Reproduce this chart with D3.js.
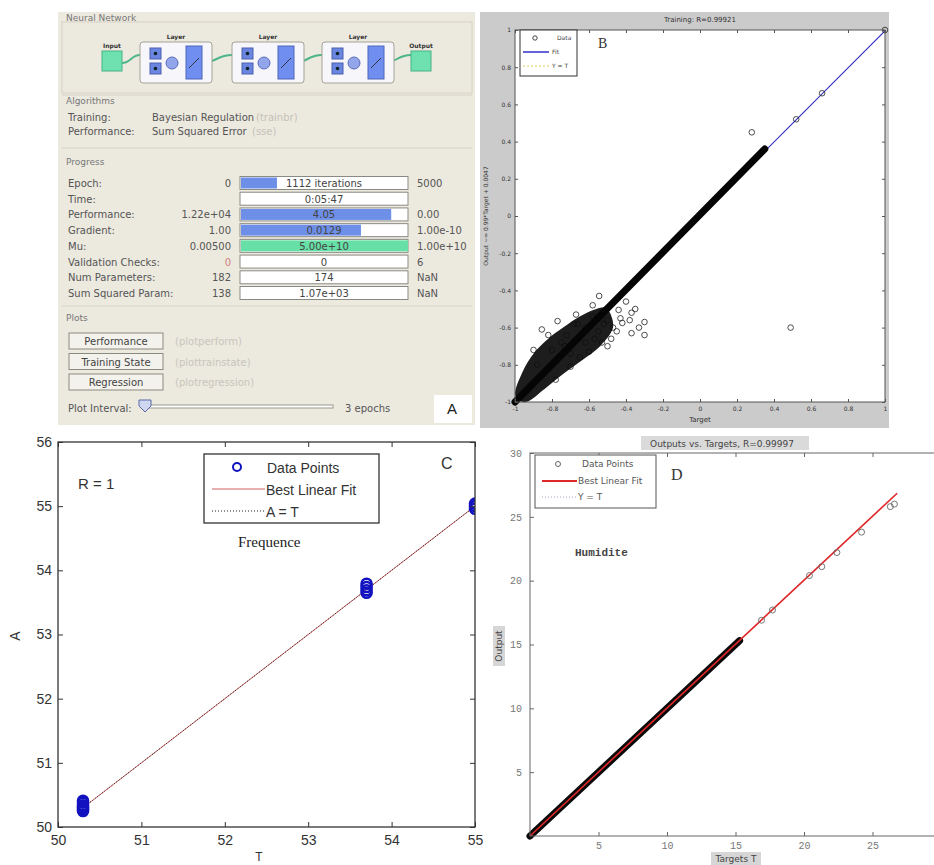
<!DOCTYPE html>
<html>
<head>
<meta charset="utf-8">
<script src="https://cdn.jsdelivr.net/npm/d3@7"></script>
<style>
  body { margin: 0; background: #fff; }
</style>
</head>
<body>
<div id="chart"></div>
<script>
// ---- panel A: nntraintool window ----
const netNodes = ['Input', 'Layer', 'Layer', 'Layer', 'Output'];
const algoLabels = ['Training:', 'Performance:'];
const algoNames = ['Bayesian Regulation', 'Sum Squared Error'];
const algoFns = ['(trainbr)', '(sse)'];
const progLabels = ['Epoch:', 'Time:', 'Performance:', 'Gradient:', 'Mu:', 'Validation Checks:', 'Num Parameters:', 'Sum Squared Param:'];
const progStart = ['0', '', '1.22e+04', '1.00', '0.00500', '0', '182', '138'];
const progValue = ['1112 iterations', '0:05:47', '4.05', '0.0129', '5.00e+10', '0', '174', '1.07e+03'];
const progEnd = ['5000', '', '0.00', '1.00e-10', '1.00e+10', '6', 'NaN', 'NaN'];
const progFill = [0.22, 0, 0.9, 0.72, 1, 0, 0, 0];
const plotButtons = ['Performance', 'Training State', 'Regression'];
const plotFns = ['(plotperform)', '(plottrainstate)', '(plotregression)'];

// ---- panel B: training regression ----
const bTicks = [-1, -0.8, -0.6, -0.4, -0.2, 0, 0.2, 0.4, 0.6, 0.8, 1];
const bBand = [[-1, -1], [0.35, 0.36]]; // overlapping markers along the diagonal
const bBlob = [[-1, -0.96], [-0.96, -0.84], [-0.9, -0.74], [-0.82, -0.66], [-0.74, -0.6], [-0.65, -0.54], [-0.56, -0.5],
               [-0.5, -0.5], [-0.47, -0.6], [-0.54, -0.7], [-0.63, -0.77], [-0.74, -0.85], [-0.84, -0.93], [-0.94, -1.0]];
const bTargets = [-0.855, -0.77, -0.67, -0.58, -0.545, -0.37, -0.3, -0.3, -0.37, -0.44, -0.42, -0.47, -0.53, -0.6, -0.65, -0.7,
                  -0.9, -0.82, -0.75, -0.62, -0.5, -0.48, -0.4, -0.35, -0.45, -0.52, -0.57, -0.62, -0.68, -0.73, -0.38, -0.33,
                  -0.88, -0.8, -0.72, -0.66, -0.58, -0.5, -0.43, -0.55, -0.78, -0.7,
                  0.28, 0.49, 0.52, 0.66, 1.0];
const bOutputs = [-0.61, -0.565, -0.53, -0.48, -0.43, -0.52, -0.57, -0.64, -0.63, -0.505, -0.575, -0.6, -0.68, -0.73, -0.76, -0.81,
                  -0.72, -0.64, -0.68, -0.6, -0.56, -0.66, -0.46, -0.5, -0.62, -0.58, -0.66, -0.68, -0.58, -0.7, -0.56, -0.6,
                  -0.8, -0.72, -0.64, -0.58, -0.54, -0.7, -0.55, -0.62, -0.88, -0.74,
                  0.45, -0.6, 0.52, 0.66, 1.0];
const bFit = [[-1, -0.995], [1, 0.995]];

// ---- panel C: frequence ----
const cTicksX = [50, 51, 52, 53, 54, 55];
const cTicksY = [50, 51, 52, 53, 54, 55, 56];
const cTargets = [50.3, 50.3, 50.3, 50.3, 50.3, 50.3, 53.7, 53.7, 53.7, 53.7, 55, 55, 55];
const cOutputs = [50.25, 50.28, 50.31, 50.34, 50.38, 50.41, 53.65, 53.69, 53.74, 53.79, 54.96, 55.0, 55.04];
const cFit = [[50.3, 50.3], [55, 55]];

// ---- panel D: humidite ----
const dTicks = [5, 10, 15, 20, 25, 30];
const dBand = [[0, 0], [15.3, 15.3]];
const dTargets = [16.9, 17.7, 20.4, 21.3, 22.4, 24.2, 26.3, 26.6];
const dOutputs = [16.9, 17.7, 20.4, 21.1, 22.2, 23.8, 25.8, 26.0];
const dFit = [[0, 0], [26.8, 26.85]];
const dIdent = [[0, 0], [26.8, 26.8]];

const svg = d3.select('#chart').append('svg')
  .attr('width', 934)
  .attr('height', 865)
  .style('display', 'block');
svg.append('rect').attr('width', 934).attr('height', 865).attr('fill', '#fff');

const guiFont = '10px "DejaVu Sans", sans-serif';

// draw a matlab style box with inward ticks on all four sides
function drawAxes(g, x, y, xTicks, yTicks, o) {
  const [x0, x1] = x.range();
  const [y0, y1] = y.range();
  g.append('g').attr('transform', `translate(0,${y0})`)
    .call(d3.axisBottom(x).tickValues(xTicks).tickSize(-o.tick).tickPadding(o.padX).tickFormat(d => String(d)));
  g.append('g').attr('transform', `translate(${x0},0)`)
    .call(d3.axisLeft(y).tickValues(yTicks).tickSize(-o.tick).tickPadding(o.padY).tickFormat(d => String(d)));
  g.append('g').attr('transform', `translate(0,${y1})`)
    .call(d3.axisTop(x).tickValues(xTicks).tickSize(-o.tick).tickFormat(''));
  g.append('g').attr('transform', `translate(${x1},0)`)
    .call(d3.axisRight(y).tickValues(yTicks).tickSize(-o.tick).tickFormat(''));
  g.selectAll('.domain').remove();
  g.selectAll('.tick line').attr('stroke', o.color);
  g.selectAll('.tick text').attr('fill', o.text).style('font', o.font);
  g.append('rect')
    .attr('x', x0).attr('y', y1)
    .attr('width', x1 - x0).attr('height', y0 - y1)
    .attr('fill', 'none').attr('stroke', o.color).attr('stroke-width', o.width || 1);
}

/* ================= panel A ================= */
const gA = svg.append('g');
gA.append('rect').attr('x', 58).attr('y', 12).attr('width', 417).attr('height', 413).attr('fill', '#ece9df');

// group headings and grooves
[['Neural Network', 18], ['Algorithms', 101], ['Progress', 162], ['Plots', 318]].forEach(([t, y]) => {
  gA.append('text').attr('x', 66).attr('y', y + 3).text(t)
    .style('font', '9px "DejaVu Sans", sans-serif').attr('fill', '#777');
});
[95, 148, 306].forEach(y => {
  gA.append('line').attr('x1', 62).attr('x2', 472).attr('y1', y).attr('y2', y).attr('stroke', '#d6d2c4');
});
gA.append('rect').attr('x', 62).attr('y', 22).attr('width', 410).attr('height', 71)
  .attr('fill', 'none').attr('stroke', '#d6d2c4');

// network diagram
const nodeX = d3.scaleOrdinal().domain(d3.range(netNodes.length)).range([112, 176, 268, 358, 421]);
const link = d3.linkHorizontal();
netNodes.forEach((name, i) => {
  const cx = nodeX(i);
  if (i < netNodes.length - 1) {
    const from = i === 0 ? cx + 10 : cx + 25;
    const to = i + 1 === netNodes.length - 1 ? nodeX(i + 1) - 10 : nodeX(i + 1) - 36;
    gA.append('path').attr('d', link({ source: [from, 63], target: [to, 55] }))
      .attr('fill', 'none').attr('stroke', '#4cb58a').attr('stroke-width', 2);
  }
  if (name === 'Layer') {
    const lx = cx - 36;
    gA.append('rect').attr('x', lx).attr('y', 42).attr('width', 72).attr('height', 41).attr('rx', 3)
      .attr('fill', '#f7f7fb').attr('stroke', '#a4a294');
    gA.append('text').attr('x', cx).attr('y', 39).attr('text-anchor', 'middle').text(name)
      .style('font', 'bold 6px "DejaVu Sans", sans-serif').attr('fill', '#333');
    [48, 63].forEach(sy => {
      gA.append('rect').attr('x', lx + 10).attr('y', sy).attr('width', 11).attr('height', 11)
        .attr('fill', '#6a86e0').attr('stroke', '#4b5fae');
      gA.append('circle').attr('cx', lx + 15.5).attr('cy', sy + 5.5).attr('r', 1.8).attr('fill', '#122');
    });
    gA.append('circle').attr('cx', lx + 32).attr('cy', 63).attr('r', 6)
      .attr('fill', '#93a6ec').attr('stroke', '#5a6cb5');
    gA.append('rect').attr('x', lx + 46).attr('y', 46).attr('width', 16).attr('height', 33)
      .attr('fill', '#6f8ef0').attr('stroke', '#4f66b8');
    gA.append('line').attr('x1', lx + 49).attr('x2', lx + 59).attr('y1', 68).attr('y2', 58).attr('stroke', '#334');
  } else {
    gA.append('rect').attr('x', cx - 10).attr('y', 51).attr('width', 20).attr('height', 20)
      .attr('fill', '#6fe0b0').attr('stroke', '#49b386');
    gA.append('text').attr('x', cx).attr('y', 48).attr('text-anchor', 'middle').text(name)
      .style('font', 'bold 6px "DejaVu Sans", sans-serif').attr('fill', '#333');
  }
});

// algorithms
algoLabels.forEach((t, i) => {
  const y = 121 + i * 14;
  gA.append('text').attr('x', 68).attr('y', y).text(t).style('font', guiFont).attr('fill', '#555');
  gA.append('text').attr('x', 152).attr('y', y).text(algoNames[i]).style('font', guiFont).attr('fill', '#555');
  gA.append('text').attr('x', i === 0 ? 256 : 252).attr('y', y).text(algoFns[i]).style('font', guiFont).attr('fill', '#c4c2b8');
});

// progress rows
const rowY = d3.scalePoint().domain(d3.range(progLabels.length)).range([183, 293]);
const barX = d3.scaleLinear().domain([0, 1]).range([240, 408]);
const rows = gA.append('g').selectAll('.row').data(progLabels).enter().append('g')
  .attr('transform', (d, i) => `translate(0,${rowY(i)})`);
rows.append('text').attr('x', 68).attr('y', 4).text(d => d).style('font', guiFont).attr('fill', '#555');
rows.append('text').attr('x', 231).attr('y', 4).attr('text-anchor', 'end')
  .text((d, i) => progStart[i]).style('font', guiFont).attr('fill', (d, i) => i === 5 ? '#d08080' : '#555');
rows.append('rect').attr('x', barX(0)).attr('y', -6.5).attr('width', barX(1) - barX(0)).attr('height', 13)
  .attr('fill', '#fff').attr('stroke', '#8a8a84');
rows.append('rect').attr('x', barX(0) + 1).attr('y', -5.5)
  .attr('width', (d, i) => Math.max(0, barX(progFill[i]) - barX(0) - 1)).attr('height', 11)
  .attr('fill', (d, i) => i === 4 ? '#66e0a6' : '#6d8fe8');
rows.append('text').attr('x', (barX(0) + barX(1)) / 2).attr('y', 4).attr('text-anchor', 'middle')
  .text((d, i) => progValue[i]).style('font', guiFont).attr('fill', '#444');
rows.append('text').attr('x', 417).attr('y', 4).text((d, i) => progEnd[i]).style('font', guiFont).attr('fill', '#555');

// plot buttons
plotButtons.forEach((t, i) => {
  const y = 333 + i * 20.5;
  gA.append('rect').attr('x', 69).attr('y', y).attr('width', 94).attr('height', 16)
    .attr('fill', '#f3f2ec').attr('stroke', '#8c8a80');
  gA.append('text').attr('x', 116).attr('y', y + 12).attr('text-anchor', 'middle').text(t)
    .style('font', guiFont).attr('fill', '#444');
  gA.append('text').attr('x', 175).attr('y', y + 12).text(plotFns[i])
    .style('font', guiFont).attr('fill', '#c8c6bc');
});

// plot interval slider
gA.append('text').attr('x', 68).attr('y', 412).text('Plot Interval:').style('font', guiFont).attr('fill', '#555');
gA.append('rect').attr('x', 145).attr('y', 405).attr('width', 188).attr('height', 3)
  .attr('fill', '#fff').attr('stroke', '#9a9a90');
gA.append('path').attr('d', 'M139,400 L151,400 L151,406 L145,412 L139,406 Z')
  .attr('fill', '#cfd6f0').attr('stroke', '#5a6aa8');
gA.append('text').attr('x', 345).attr('y', 412).text('3 epochs').style('font', guiFont).attr('fill', '#555');
gA.append('rect').attr('x', 434).attr('y', 395).attr('width', 38).attr('height', 28).attr('fill', '#fff');
gA.append('text').attr('x', 447).attr('y', 414).text('A')
  .style('font', '15px "Liberation Sans", Arial, sans-serif').attr('fill', '#222');

/* ================= panel B ================= */
const gB = svg.append('g');
gB.append('rect').attr('x', 480).attr('y', 12).attr('width', 409).attr('height', 416).attr('fill', '#cbcbcb');
const xB = d3.scaleLinear().domain([-1, 1]).range([515, 885]);
const yB = d3.scaleLinear().domain([-1, 1]).range([402, 30]);
gB.append('rect').attr('x', 515).attr('y', 30).attr('width', 370).attr('height', 372).attr('fill', '#fff');

const lineB = d3.line().x(d => xB(d[0])).y(d => yB(d[1]));
gB.append('path').attr('d', lineB(bFit)).attr('stroke', '#d8d060').attr('stroke-dasharray', '2,2').attr('fill', 'none');
gB.append('path').attr('d', lineB(bFit)).attr('stroke', '#3030c8').attr('stroke-width', 1.2).attr('fill', 'none');
gB.append('g').selectAll('circle').data(bTargets).enter().append('circle')
  .attr('cx', d => xB(d)).attr('cy', (d, i) => yB(bOutputs[i])).attr('r', 2.8)
  .attr('fill', 'none').attr('stroke', '#222').attr('stroke-width', 0.8);
gB.append('path').attr('d', d3.line().x(d => xB(d[0])).y(d => yB(d[1])).curve(d3.curveCardinalClosed)(bBlob))
  .attr('fill', '#0c0c0c').attr('opacity', 0.93);
gB.append('path').attr('d', lineB(bBand)).attr('stroke', '#050505').attr('stroke-width', 7)
  .attr('stroke-linecap', 'round').attr('fill', 'none');

drawAxes(gB.append('g'), xB, yB, bTicks, bTicks,
  { tick: 3, padX: 5, padY: 4, color: '#555', text: '#333', font: '6px "DejaVu Sans", sans-serif' });

gB.append('text').attr('x', 700).attr('y', 22).attr('text-anchor', 'middle').text('Training: R=0.99921')
  .style('font', '7px "DejaVu Sans", sans-serif').attr('fill', '#333');
gB.append('text').attr('x', 700).attr('y', 422).attr('text-anchor', 'middle').text('Target')
  .style('font', '7px "DejaVu Sans", sans-serif').attr('fill', '#333');
gB.append('text').attr('transform', 'translate(488,216) rotate(-90)').attr('text-anchor', 'middle')
  .text('Output ~= 0.99*Target + 0.0047').style('font', '6px "DejaVu Sans", sans-serif').attr('fill', '#333');

// legend B
const legB = gB.append('g');
legB.append('rect').attr('x', 520).attr('y', 30).attr('width', 57).attr('height', 46)
  .attr('fill', '#fff').attr('stroke', '#333');
legB.append('circle').attr('cx', 535).attr('cy', 38).attr('r', 2.2).attr('fill', 'none').attr('stroke', '#444');
legB.append('line').attr('x1', 523).attr('x2', 549).attr('y1', 52).attr('y2', 52).attr('stroke', '#3030c8').attr('stroke-width', 1.5);
legB.append('line').attr('x1', 523).attr('x2', 549).attr('y1', 66).attr('y2', 66).attr('stroke', '#d8d060').attr('stroke-dasharray', '2,2');
['Data', 'Fit', 'Y = T'].forEach((t, i) => {
  legB.append('text').attr('x', i === 0 ? 557 : 552).attr('y', 40 + i * 14).text(t)
    .style('font', '6px "DejaVu Sans", sans-serif').attr('fill', '#444');
});
gB.append('text').attr('x', 598).attr('y', 48).text('B')
  .style('font', '14px "Liberation Serif", serif').attr('fill', '#333');

/* ================= panel C ================= */
const gC = svg.append('g');
const xC = d3.scaleLinear().domain([50, 55]).range([58, 475]);
const yC = d3.scaleLinear().domain([50, 56]).range([827, 442]);
svg.append('clipPath').attr('id', 'clipC').append('rect').attr('x', 58).attr('y', 442).attr('width', 417).attr('height', 385);
const lineC = d3.line().x(d => xC(d[0])).y(d => yC(d[1]));
gC.append('path').attr('d', lineC(cFit)).attr('stroke', '#d06060').attr('stroke-width', 1).attr('fill', 'none');
gC.append('path').attr('d', lineC(cFit)).attr('stroke', '#222').attr('stroke-dasharray', '1,2').attr('fill', 'none');
gC.append('g').attr('clip-path', 'url(#clipC)').selectAll('circle').data(cTargets).enter().append('circle')
  .attr('cx', d => xC(d)).attr('cy', (d, i) => yC(cOutputs[i])).attr('r', 5)
  .attr('fill', 'none').attr('stroke', '#1212c0').attr('stroke-width', 2.6);

drawAxes(gC.append('g'), xC, yC, cTicksX, cTicksY,
  { tick: 5, padX: 8, padY: 6, color: '#333', text: '#333', font: '14px "Liberation Sans", Arial, sans-serif', width: 1.3 });

gC.append('text').attr('transform', 'translate(20,636) rotate(-90)').attr('text-anchor', 'middle').text('A')
  .style('font', '14px "Liberation Sans", Arial, sans-serif').attr('fill', '#333');
gC.append('text').attr('x', 259).attr('y', 861).attr('text-anchor', 'middle').text('T')
  .style('font', '12px "Liberation Sans", Arial, sans-serif').attr('fill', '#333');

// legend C
const legC = gC.append('g');
legC.append('rect').attr('x', 204).attr('y', 454).attr('width', 175).attr('height', 69)
  .attr('fill', '#fff').attr('stroke', '#333').attr('stroke-width', 1.3);
legC.append('circle').attr('cx', 237).attr('cy', 467).attr('r', 4).attr('fill', 'none').attr('stroke', '#1212c0').attr('stroke-width', 2);
legC.append('line').attr('x1', 212).attr('x2', 265).attr('y1', 489).attr('y2', 489).attr('stroke', '#d06060');
legC.append('line').attr('x1', 212).attr('x2', 265).attr('y1', 511).attr('y2', 511).attr('stroke', '#222').attr('stroke-dasharray', '1,2');
['Data Points', 'Best Linear Fit', 'A = T'].forEach((t, i) => {
  legC.append('text').attr('x', i === 0 ? 267 : 266).attr('y', 473 + i * 22).text(t)
    .style('font', '14px "Liberation Sans", Arial, sans-serif').attr('fill', '#333');
});
gC.append('text').attr('x', 78).attr('y', 489).text('R = 1')
  .style('font', '15px "Liberation Sans", Arial, sans-serif').attr('fill', '#333');
gC.append('text').attr('x', 441).attr('y', 469).text('C')
  .style('font', '16px "Liberation Sans", Arial, sans-serif').attr('fill', '#333');
gC.append('text').attr('x', 238).attr('y', 547).text('Frequence')
  .style('font', '15px "Liberation Serif", serif').attr('fill', '#222');

/* ================= panel D ================= */
const gD = svg.append('g');
const xD = d3.scaleLinear().domain([0, 30]).range([530, 941]);
const yD = d3.scaleLinear().domain([0, 30]).range([836, 453]);
const lineD = d3.line().x(d => xD(d[0])).y(d => yD(d[1]));
gD.append('path').attr('d', lineD(dIdent)).attr('stroke', '#b0a0c0').attr('stroke-dasharray', '1,2').attr('fill', 'none');
gD.append('path').attr('d', lineD(dBand)).attr('stroke', '#0a0a0a').attr('stroke-width', 7)
  .attr('stroke-linecap', 'round').attr('fill', 'none');
gD.append('path').attr('d', lineD(dFit)).attr('stroke', '#e02828').attr('stroke-width', 1.6).attr('fill', 'none');
gD.append('g').selectAll('circle').data(dTargets).enter().append('circle')
  .attr('cx', d => xD(d)).attr('cy', (d, i) => yD(dOutputs[i])).attr('r', 3)
  .attr('fill', 'none').attr('stroke', '#666').attr('stroke-width', 0.9);

drawAxes(gD.append('g'), xD, yD, dTicks, dTicks,
  { tick: 4, padX: 6, padY: 8, color: '#666', text: '#777', font: '10px "Liberation Mono", monospace' });

// grey label backgrounds like the original figure window
gD.append('rect').attr('x', 641).attr('y', 436).attr('width', 168).attr('height', 14).attr('fill', '#dadada');
gD.append('text').attr('x', 722).attr('y', 447).attr('text-anchor', 'middle').text('Outputs vs. Targets, R=0.99997')
  .style('font', '9px "DejaVu Sans", sans-serif').attr('fill', '#444');
gD.append('rect').attr('x', 493).attr('y', 626).attr('width', 12).attr('height', 40).attr('fill', '#d6d6d6');
gD.append('text').attr('transform', 'translate(502,646) rotate(-90)').attr('text-anchor', 'middle').text('Output')
  .style('font', '9px "DejaVu Sans", sans-serif').attr('fill', '#444');
gD.append('rect').attr('x', 711).attr('y', 852).attr('width', 50).attr('height', 13).attr('fill', '#d6d6d6');
gD.append('text').attr('x', 736).attr('y', 862).attr('text-anchor', 'middle').text('Targets T')
  .style('font', '9px "DejaVu Sans", sans-serif').attr('fill', '#444');

// legend D
const legD = gD.append('g');
legD.append('rect').attr('x', 535).attr('y', 455).attr('width', 121).attr('height', 53)
  .attr('fill', '#fff').attr('stroke', '#555');
legD.append('circle').attr('cx', 558).attr('cy', 464).attr('r', 2.5).attr('fill', 'none').attr('stroke', '#666');
legD.append('line').attr('x1', 542).attr('x2', 577).attr('y1', 481).attr('y2', 481).attr('stroke', '#e02828').attr('stroke-width', 2);
legD.append('line').attr('x1', 542).attr('x2', 577).attr('y1', 497).attr('y2', 497).attr('stroke', '#b0a0c0').attr('stroke-dasharray', '1,2');
['Data Points', 'Best Linear Fit', 'Y = T'].forEach((t, i) => {
  legD.append('text').attr('x', i === 0 ? 582 : 578).attr('y', 467 + i * 16.5).text(t)
    .style('font', '9px "DejaVu Sans", sans-serif').attr('fill', '#555');
});
gD.append('text').attr('x', 671).attr('y', 480).text('D')
  .style('font', '16px "Liberation Serif", serif').attr('fill', '#333');
gD.append('text').attr('x', 575).attr('y', 556).text('Humidite')
  .style('font', 'bold 11px "Liberation Mono", monospace').attr('fill', '#444');
</script>
</body>
</html>
